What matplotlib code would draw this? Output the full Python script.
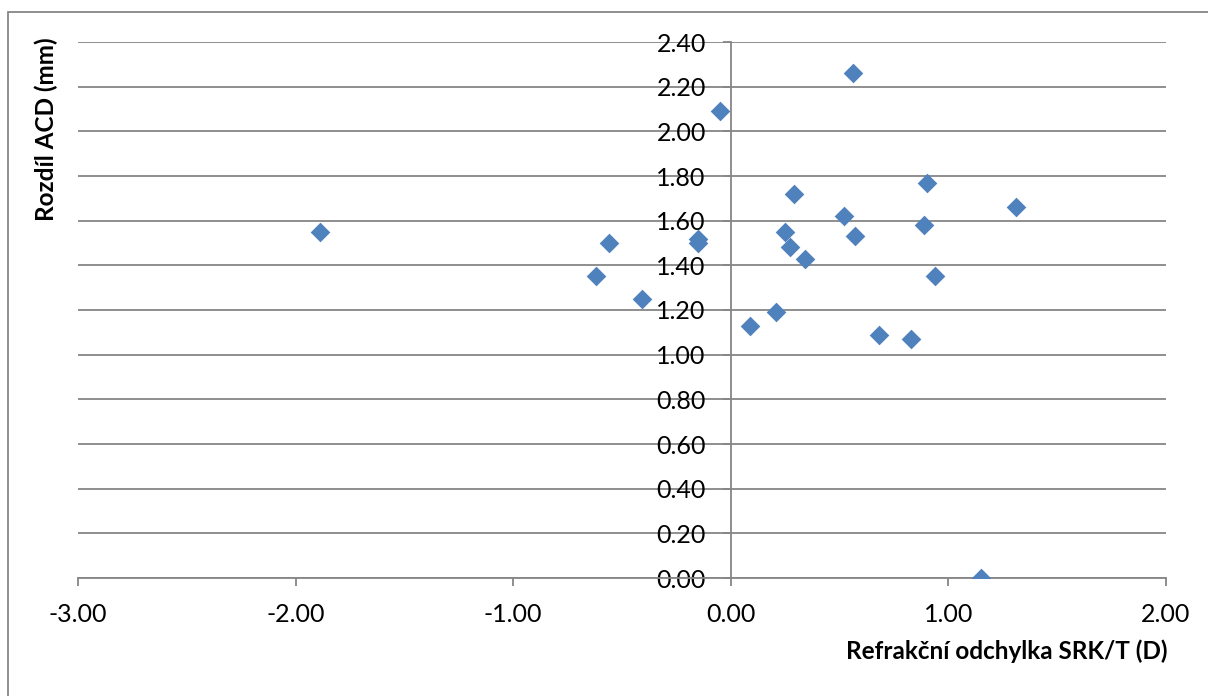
import matplotlib
matplotlib.use("Agg")
import matplotlib.pyplot as plt
from matplotlib.patches import Rectangle
from matplotlib.ticker import MultipleLocator, FormatStrFormatter

plt.rcParams['font.family'] = ['Lato', 'DejaVu Sans']

# Refraction deviation (D) vs. ACD difference (mm)
refr_dev = [-1.89, -0.56, -0.62, -0.41, -0.15, -0.15, -0.05, 0.56, 0.09, 0.21,
            0.29, 0.25, 0.27, 0.34, 0.52, 0.57, 0.68, 0.83, 0.90, 0.89,
            0.94, 1.31, 1.15]
acd_diff = [1.55, 1.50, 1.35, 1.25, 1.52, 1.50, 2.09, 2.26, 1.13, 1.19,
            1.72, 1.55, 1.48, 1.43, 1.62, 1.53, 1.09, 1.07, 1.77, 1.58,
            1.35, 1.66, 0.00]

x_label = "Refrakční odchylka SRK/T (D)"
y_label = "Rozdíl ACD (mm)"

W, H = 1208, 696
fig = plt.figure(figsize=(W / 100, H / 100), dpi=100)
ax = fig.add_axes([78 / W, 1 - 578 / H, (1166 - 78) / W, (578 - 42) / H])

grey = '#868686'
blue = '#4F81BD'

ax.scatter(refr_dev, acd_diff, marker='D', s=100, color=blue, linewidths=0, zorder=3)

ax.set_xlim(-3, 2)
ax.set_ylim(0, 2.4)
ax.xaxis.set_major_locator(MultipleLocator(1))
ax.yaxis.set_major_locator(MultipleLocator(0.2))
ax.xaxis.set_major_formatter(FormatStrFormatter('%.2f'))
ax.yaxis.set_major_formatter(FormatStrFormatter('%.2f'))

ax.grid(axis='y', color=grey, linewidth=1.3)
ax.set_axisbelow(True)

for s in ('top', 'right'):
    ax.spines[s].set_visible(False)
ax.spines['left'].set_position(('data', 0))
ax.spines['left'].set_color(grey)
ax.spines['bottom'].set_color(grey)
ax.spines['left'].set_linewidth(1.3)
ax.spines['bottom'].set_linewidth(1.3)

ax.tick_params(axis='both', colors=grey, width=1.3, length=6, labelsize=18,
               labelcolor='black')
ax.tick_params(axis='y', pad=12)
ax.tick_params(axis='x', pad=12)

fig.text(1168 / W, 1 - 659 / H, x_label, ha='right', va='baseline',
         fontsize=17.5, fontweight='bold')
fig.text(46 / W, 1 - 37 / H, y_label, ha='center', va='top', rotation=90,
         fontsize=17.5, fontweight='bold')

# chart-area frame
fig.patches.append(Rectangle((8 / W, -0.1), 1.5, 1 - 12 / H + 0.1,
                             transform=fig.transFigure, fill=False,
                             edgecolor=grey, linewidth=1.3))

fig.savefig('out.png', dpi=100)
